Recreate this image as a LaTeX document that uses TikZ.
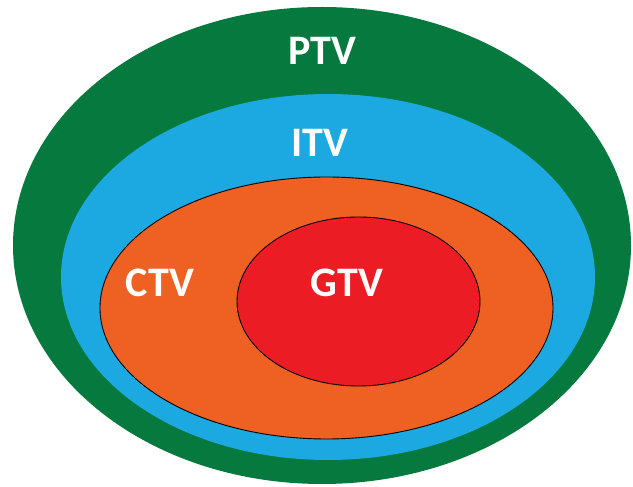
\documentclass[tikz,border=0pt]{standalone}
\usepackage{fontspec}
\setmainfont{Carlito}
\usetikzlibrary{shapes.geometric}
\definecolor{ptvgreen}{HTML}{067A3E}
\definecolor{itvblue}{HTML}{1CA8E0}
\definecolor{ctvorange}{HTML}{EF6123}
\definecolor{gtvred}{HTML}{EC1C24}
\tikzset{
  vol/.style={ellipse, inner sep=0pt, outer sep=0pt},
  lbl/.style={text=white, font=\fontsize{42}{42}\selectfont\bfseries, inner sep=0pt, anchor=center}
}
\begin{document}
\begin{tikzpicture}[x=1pt,y=1pt]
\useasboundingbox[fill=white] (0,0) rectangle (633,487);
\node[vol, fill=ptvgreen, minimum width=618pt, minimum height=477pt] (ptv) at (322,241.5) {};
\node[vol, fill=itvblue, minimum width=534pt, minimum height=366pt] (itv) at (328,210) {};
\node[vol, fill=ctvorange, draw=black, line width=0.9pt, minimum width=453pt, minimum height=262pt] (ctv) at (326.5,179) {};
\node[vol, fill=gtvred, draw=black, line width=0.9pt, minimum width=243pt, minimum height=169pt] (gtv) at (358.5,185.5) {};
\node[lbl] (ptvl) at (322,436) {PTV};
\node[lbl] (itvl) at (320,344) {ITV};
\node[lbl] (ctvl) at (160,204) {CTV};
\node[lbl] (gtvl) at (347,204) {GTV};
\end{tikzpicture}
\end{document}
